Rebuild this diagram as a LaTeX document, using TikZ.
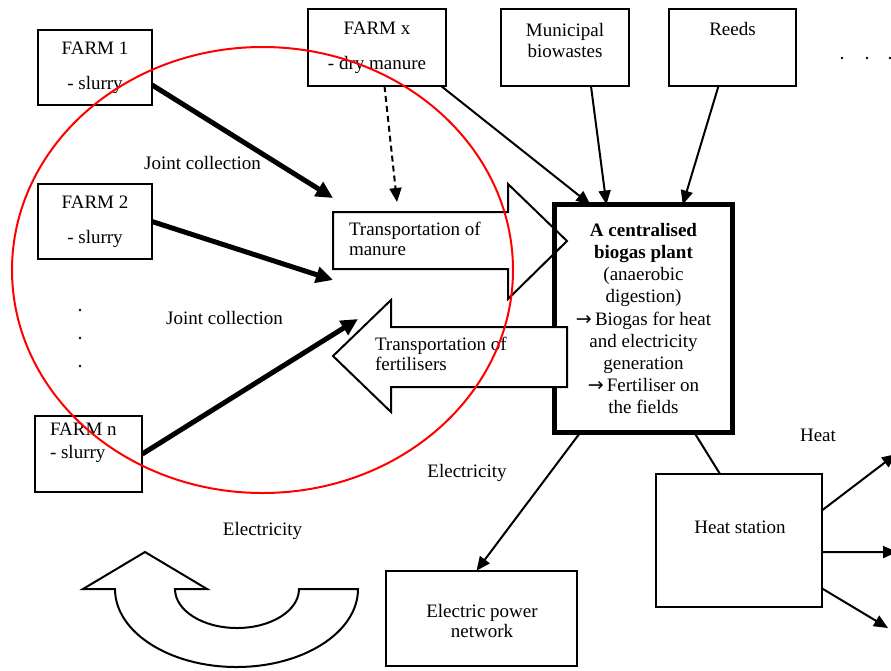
\documentclass[tikz,border=0pt]{standalone}
\usepackage{fontspec}
\setmainfont{Liberation Serif}
\newfontfamily\symfont{DejaVu Sans}
\usetikzlibrary{arrows.meta}
\begin{document}
\begin{tikzpicture}[x=1pt,y=-1pt,
  every node/.style={font=\fontsize{19}{22}\selectfont, inner sep=0pt, outer sep=0pt},
  box/.style={draw, line width=2pt, fill=white, align=center},
  txt/.style={align=center},
  thinarrow/.style={line width=2pt, -{Triangle[length=14pt,width=12pt]}},
  thickarrow/.style={line width=5pt, -{Triangle[length=17pt,width=16pt]}},
  blockarrow/.style={draw, line width=2pt, fill=white, line join=miter},
  dotmark/.style={fill=black, draw=none},
]
\useasboundingbox (0,0) rectangle (891,670);

% ---- supplier boxes ----
\node[box, minimum width=114pt, minimum height=75pt, font=\fontsize{19}{35}\selectfont]
  (farm1) at (95,67.5) {FARM 1\\- slurry};
\node[box, minimum width=114pt, minimum height=75pt, font=\fontsize{19}{35}\selectfont]
  (farm2) at (95,221.5) {FARM 2\\- slurry};
\node[box, minimum width=107.5pt, minimum height=76.5pt] (farmn) at (88.5,454) {};
\node[anchor=north west, align=left, font=\fontsize{19}{23}\selectfont]
  (farmntext) at (50,423) {FARM n\\- slurry};
\node[box, minimum width=138pt, minimum height=77pt, font=\fontsize{19}{35}\selectfont]
  (farmx) at (377,47.5) {FARM x\\- dry manure};
\node[box, minimum width=128pt, minimum height=77pt] (municipal) at (565,47.5) {};
\node[txt, font=\fontsize{19}{21}\selectfont] (municipaltext) at (565,40) {Municipal\\biowastes};
\node[box, minimum width=127pt, minimum height=77pt] (reeds) at (732.5,47.5) {};
\node (reedstext) at (732.5,29) {Reeds};

% ---- continuation dots ----
\foreach \yy/\nm in {310/a,338/b,366/c}
  \fill[dotmark] (80,\yy) circle[radius=1.4pt] coordinate (vdot\nm);
\foreach \xx/\nm in {842/a,867/b,890/c}
  \fill[dotmark] (\xx,58) circle[radius=1.4pt] coordinate (hdot\nm);

% ---- transport of manure (block arrow, behind the plant frame) ----
\draw[blockarrow] (333,212) -- (508,212) -- (508,184) -- (567,241) -- (508,299)
  -- (508,269) -- (333,269) -- cycle;
\node[anchor=north west, align=left, font=\fontsize{19}{20}\selectfont]
  (manuretext) at (349,222) {Transportation of\\manure};

% ---- central biogas plant ----
\node[draw, line width=5pt, minimum width=178pt, minimum height=228pt, align=center,
  font=\fontsize{19}{22.2}\selectfont] (central) at (643.5,318.5)
  {\textbf{A centralised}\\\textbf{biogas plant}\\(anaerobic\\digestion)\\
   {\symfont→}\,Biogas for heat\\and electricity\\generation\\
   {\symfont→}\,Fertiliser on\\the fields};

% ---- transport of fertilisers (block arrow, in front of the plant frame) ----
\draw[blockarrow] (567,327) -- (391,327) -- (391,300) -- (333,356) -- (391,412)
  -- (391,387) -- (567,387) -- cycle;
\node[anchor=north west, align=left, font=\fontsize{19}{20}\selectfont]
  (fertilisertext) at (375,337) {Transportation of\\fertilisers};

% ---- consumers ----
\node[box, minimum width=166.5pt, minimum height=133.5pt] (heat) at (739,540.5) {};
\node (heattext) at (740,527) {Heat station};
\node[box, minimum width=191.5pt, minimum height=95.5pt] (electric) at (481.5,618.5) {};
\node[txt, font=\fontsize{19}{19.5}\selectfont] (electrictext) at (482,621) {Electric power\\network};

% ---- free ends of connectors ----
\coordinate (manureA) at (333,198);
\coordinate (manureB) at (333,280);
\coordinate (fertA) at (358,319);
\coordinate (dashend) at (397,202);
\coordinate (heatA) at (896,454);
\coordinate (heatB) at (897,552);
\coordinate (heatC) at (888,628);

% ---- joint collection ----
\draw[thickarrow] (farm1.-17) -- (manureA);
\draw[thickarrow] (farm2.east) -- (manureB);
\draw[thickarrow] (farmn.east) -- (fertA);
\draw[thinarrow, dashed, dash pattern=on 6pt off 4pt] (farmx.-79) -- (dashend);

% ---- feedstock to the plant ----
\draw[thinarrow] (farmx.-31) -- (central.115.5);
\draw[thinarrow] (municipal.-56) -- (central.108.9);
\draw[thinarrow] (reeds.-110) -- (central.71.6);

% ---- outputs ----
\draw[thinarrow] (central.-119) -- (electric.96);
\draw[line width=2pt] (central.-66) -- (heat.106);
\draw[thinarrow] (heat.20) -- (heatA);
\draw[thinarrow] (heat.-8) -- (heatB);
\draw[thinarrow] (heat.-30) -- (heatC);

% ---- labels ----
\node (jc1) at (202.5,163) {Joint collection};
\node (jc2) at (224.5,318) {Joint collection};
\node (elec1) at (467,473) {Electricity};
\node (elec2) at (262.5,531) {Electricity};
\node (heatlabel) at (818,435) {Heat};

% ---- electricity fed back (curved block arrow) ----
\draw[line width=2pt, fill=white, line join=miter]
  (83,589) -- (145,552) -- (207,589) -- (175,589)
  arc[start angle=180, end angle=360, x radius=62pt, y radius=39pt]
  -- (358,589)
  arc[start angle=0, end angle=-180, x radius=121.5pt, y radius=78pt]
  -- cycle;

% ---- cluster of farms ----
\draw[red, line width=2pt] (262.5,270) ellipse[x radius=250.5pt, y radius=223pt];
\end{tikzpicture}
\end{document}
